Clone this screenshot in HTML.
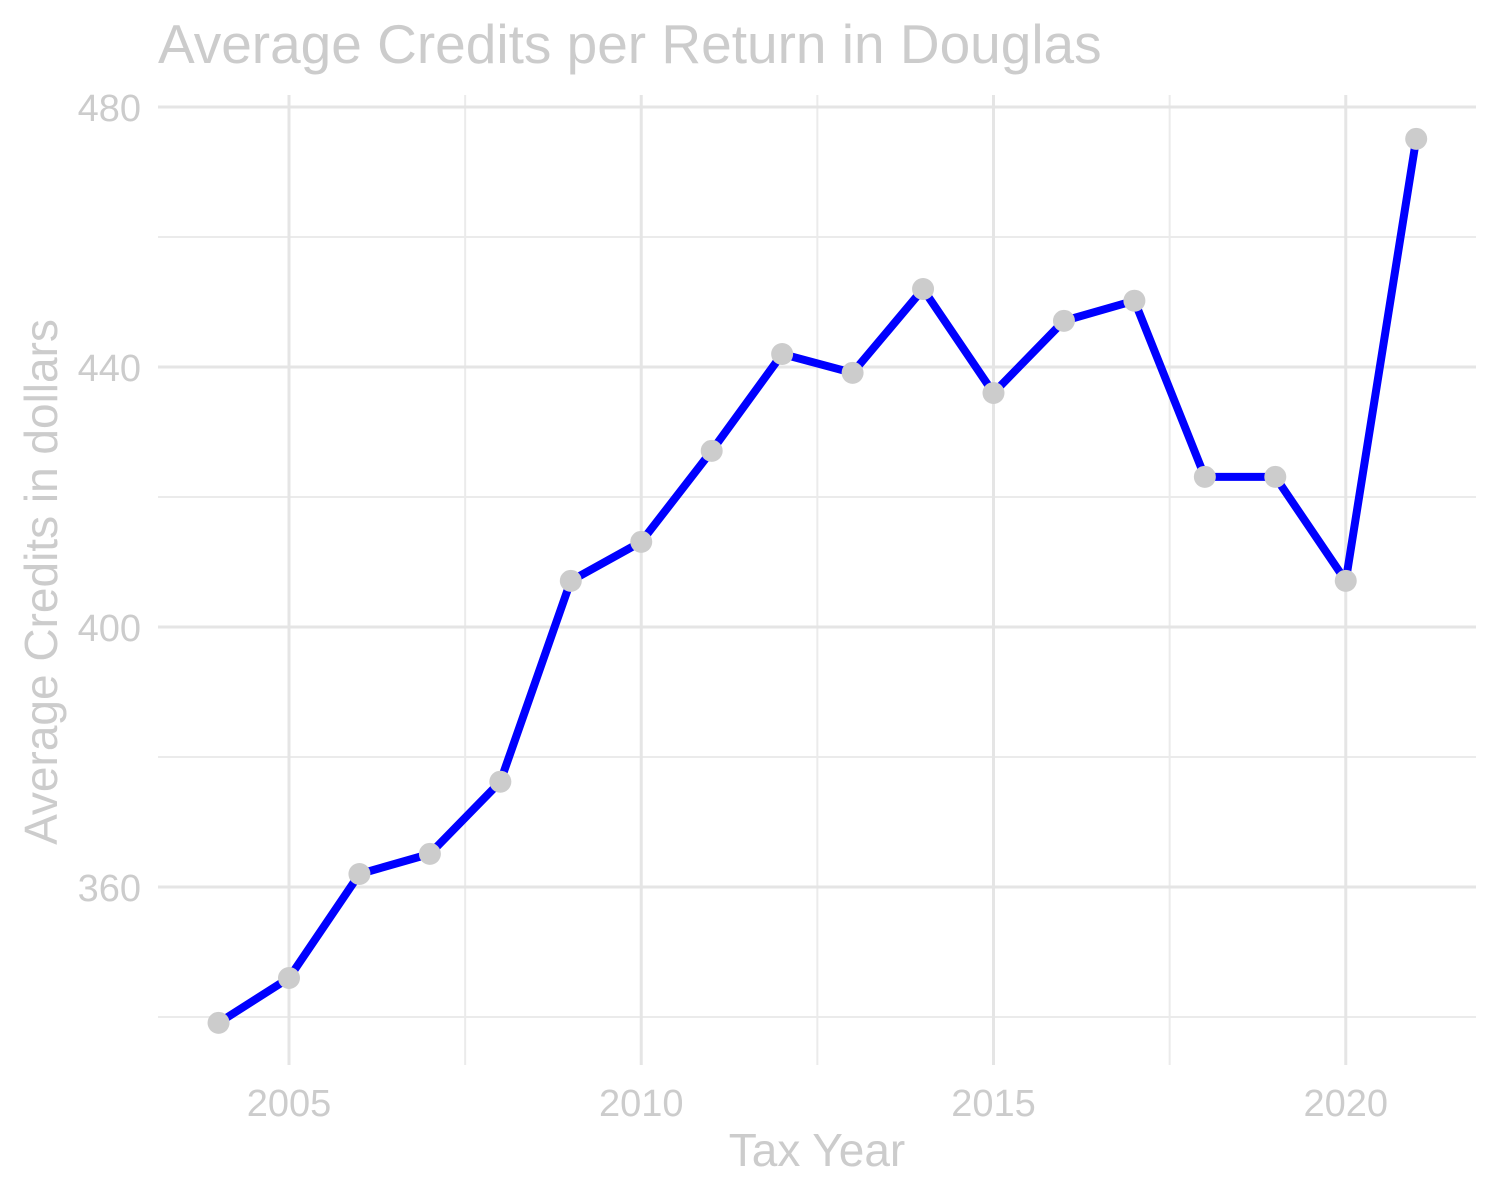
<!DOCTYPE html>
<html><head><meta charset="utf-8"><style>
html,body{margin:0;padding:0;background:#fff;}
svg{display:block;font-family:"Liberation Sans",Arial,sans-serif;}
</style></head><body>
<svg id="chart" width="1500" height="1199">
<text x="158" y="63" font-size="55" fill="#cccccc">Average Credits per Return in Douglas</text>
<g id="grid"></g>
<g id="xticks"></g>
<g id="yticks"></g>
<text x="817" y="1166" font-size="46" fill="#cccccc" text-anchor="middle">Tax Year</text>
<text transform="translate(57,582) rotate(-90)" font-size="46" fill="#cccccc" text-anchor="middle">Average Credits in dollars</text>
<g id="series"></g>
</svg>
<script>
const years = [2004,2005,2006,2007,2008,2009,2010,2011,2012,2013,2014,2015,2016,2017,2018,2019,2020,2021];
const credits = [339.1,346,362,365.1,376.2,407.1,413.1,427.1,442,439.1,452,436,447.1,450.2,423.1,423.1,407.1,475.1];
const xTickLabels = [2005,2010,2015,2020];
const xMinorTicks = [2007.5,2012.5,2017.5];
const yTickLabels = [360,400,440,480];
const yMinorTicks = [340,380,420,460];

const L=158,R=1476,T=95,B=1065;
const xs = y => 289 + (y-2005)*70.45;
const ys = v => 887 - (v-360)*6.5;
const NS="http://www.w3.org/2000/svg";
function mk(tag,attrs,parent){const e=document.createElementNS(NS,tag);for(const k in attrs)e.setAttribute(k,attrs[k]);parent.appendChild(e);return e;}
const grid=document.getElementById('grid'),xt=document.getElementById('xticks'),yt=document.getElementById('yticks'),ser=document.getElementById('series');

yMinorTicks.forEach(v=>{const l=mk('line',{x1:L,x2:R,y1:ys(v),y2:ys(v),stroke:'#ebebeb','stroke-width':2},grid);

});
xMinorTicks.forEach(v=>{const l=mk('line',{x1:xs(v),x2:xs(v),y1:T,y2:B,stroke:'#ebebeb','stroke-width':2},grid);

});
yTickLabels.forEach(v=>{const l=mk('line',{x1:L,x2:R,y1:ys(v),y2:ys(v),stroke:'#e5e5e5','stroke-width':3},grid);


const t=mk('text',{x:141,y:ys(v)+14,'font-size':38,fill:'#cccccc','text-anchor':'end'},yt);t.textContent=v;

});
xTickLabels.forEach(v=>{const l=mk('line',{x1:xs(v),x2:xs(v),y1:T,y2:B,stroke:'#e5e5e5','stroke-width':3},grid);


const t=mk('text',{x:xs(v),y:1116,'font-size':38,fill:'#cccccc','text-anchor':'middle'},xt);t.textContent=v;

});

const pts=years.map((y,i)=>xs(y)+','+ys(credits[i])).join(' ');
const pl=mk('polyline',{points:pts,fill:'none',stroke:'#0000ff','stroke-width':8,'stroke-linejoin':'round'},ser);


years.forEach((y,i)=>{const c=mk('circle',{cx:xs(y),cy:ys(credits[i]),r:11,fill:'#cccccc'},ser);

});
</script>
</body></html>
